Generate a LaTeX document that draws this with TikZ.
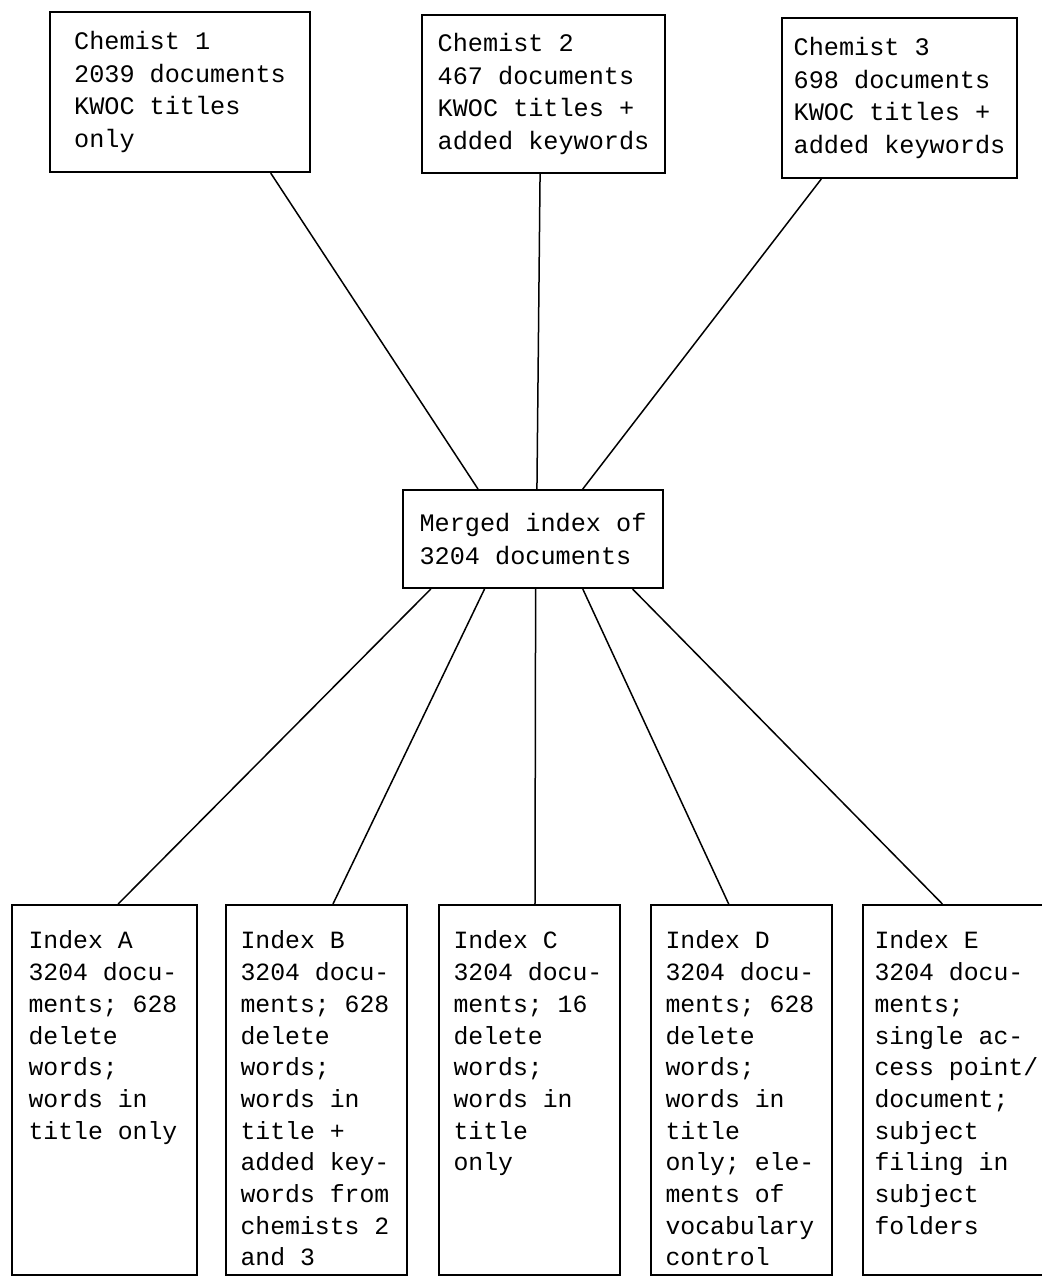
\documentclass[tikz,border=0pt]{standalone}
\usepackage{fontspec}
\setmonofont{Liberation Mono}
\usetikzlibrary{calc}
\newcommand\twfont{\ttfamily\fontsize{12.6}{16.4}\selectfont}
\newcommand\ixfont{\ttfamily\fontsize{12.4}{15.85}\selectfont}
\newcommand\ixtext[2][76pt]{\parbox[t][159pt][t]{#1}{\ixfont\raggedright #2}}
\begin{document}
\begin{tikzpicture}[x=0.5pt,y=-0.5pt,
  box/.style={draw, line width=1pt, inner sep=0pt, font=\twfont, align=left},
  ibox/.style={box, minimum width=90.5pt, minimum height=185pt},
  link/.style={line width=0.75pt}]
\useasboundingbox (0,0) rectangle (1042,1278);

\node[box, minimum width=130pt, minimum height=80pt] (c1) at (180,92)
  {Chemist 1\\2039 documents\\KWOC titles\\only};
\node[box, minimum width=121.5pt, minimum height=79pt] (c2) at (543.5,94)
  {Chemist 2\\467 documents\\KWOC titles +\\added keywords};
\node[box, minimum width=117.5pt, minimum height=80pt] (c3) at (899.5,98)
  {Chemist 3\\698 documents\\KWOC titles +\\added keywords};

\node[box, minimum width=130pt, minimum height=49pt] (m) at (533,539)
  {Merged index of\\3204 documents};

\node[ibox, minimum width=92.5pt] (ia) at (104.5,1090)
  {\ixtext{Index A\\3204 docu-\\ments; 628\\delete\\words;\\words in\\title only}};
\node[ibox] (ib) at (316.5,1090)
  {\ixtext{Index B\\3204 docu-\\ments; 628\\delete\\words;\\words in\\title +\\added key-\\words from\\chemists 2\\and 3}};
\node[ibox] (ic) at (529.5,1090)
  {\ixtext{Index C\\3204 docu-\\ments; 16\\delete\\words;\\words in\\title\\only}};
\node[ibox] (id) at (741.5,1090)
  {\ixtext{Index D\\3204 docu-\\ments; 628\\delete\\words;\\words in\\title\\only; ele-\\ments of\\vocabulary\\control}};
\node[ibox, minimum width=92.5pt] (ie) at (955.5,1090)
  {\ixtext[81pt]{Index E\\3204 docu-\\ments;\\single ac-\\cess~point/\\document;\\subject\\filing in\\subject\\folders}};

\draw[link] ($(c1.south west)!.846!(c1.south east)$) -- ($(m.north west)!.29!(m.north east)$);
\draw[link] ($(c2.south west)!.486!(c2.south east)$) -- ($(m.north west)!.515!(m.north east)$);
\draw[link] ($(c3.south west)!.17!(c3.south east)$) -- ($(m.north west)!.69!(m.north east)$);

\draw[link] ($(m.south west)!.11!(m.south east)$) -- ($(ia.north west)!.573!(ia.north east)$);
\draw[link] ($(m.south west)!.315!(m.south east)$) -- ($(ib.north west)!.59!(ib.north east)$);
\draw[link] ($(m.south west)!.51!(m.south east)$) -- ($(ic.north west)!.53!(ic.north east)$);
\draw[link] ($(m.south west)!.69!(m.south east)$) -- ($(id.north west)!.43!(id.north east)$);
\draw[link] ($(m.south west)!.88!(m.south east)$) -- ($(ie.north west)!.43!(ie.north east)$);
\end{tikzpicture}
\end{document}
